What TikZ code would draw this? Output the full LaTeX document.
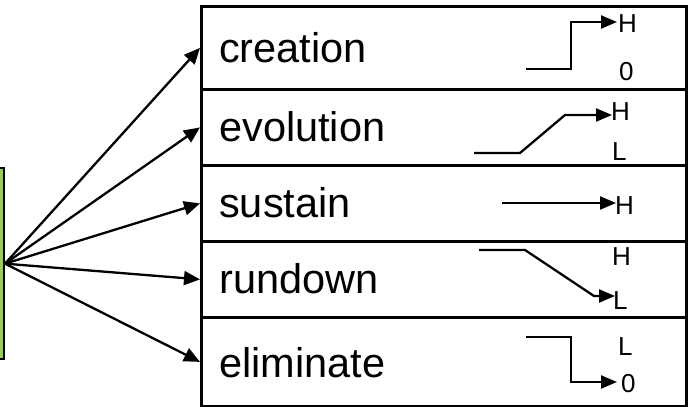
\documentclass[tikz,border=0pt]{standalone}
\usepackage{fontspec}
\setmainfont{Liberation Sans}
\usetikzlibrary{arrows.meta}
\definecolor{srcgreen}{RGB}{146,208,80}
\begin{document}
\begin{tikzpicture}[x=1pt,y=-1pt,
  boxstyle/.style={draw=black,line width=2.8pt,rectangle,minimum width=485pt,inner sep=0pt,anchor=north west},
  maintext/.style={anchor=base west,inner sep=0pt,font=\fontsize{41.5}{41.5}\selectfont},
  lvl/.style={anchor=base west,inner sep=0pt,font=\fontsize{26}{26}\selectfont},
  feed/.style={draw=black,line width=2.3pt,-{Triangle[length=16pt,width=14pt]}},
  sig/.style={draw=black,line width=2.3pt,-{Triangle[length=16pt,width=13pt]}}]
\useasboundingbox (0,0) rectangle (689,407);
% source box
\node[draw=black,fill=srcgreen,line width=2.3pt,rectangle,inner sep=0pt,minimum width=30pt,minimum height=191pt,anchor=north east] (src) at (5,167) {};
% boxes
\node[boxstyle,minimum height=83pt] (bc) at (200,5) {};
\node[boxstyle,minimum height=76pt] (be) at (200,88) {};
\node[boxstyle,minimum height=76pt] (bs) at (200,164) {};
\node[boxstyle,minimum height=76pt] (br) at (200,240) {};
\node[boxstyle,minimum height=89pt] (bl) at (200,316) {};
% texts
\node[maintext] (tc) at (219,62) {creation};
\node[maintext] (te) at (219,141) {evolution};
\node[maintext] (ts) at (219,217) {sustain};
\node[maintext] (tr) at (219,293) {rundown};
\node[maintext] (tl) at (219,377) {eliminate};
% feed arrows
\draw[feed] (src.east) -- (bc.west);
\draw[feed] (src.east) -- (be.west);
\draw[feed] (src.east) -- (bs.west);
\draw[feed] (src.east) -- (br.west);
\draw[feed] (src.east) -- (bl.west);
% level labels
\node[lvl] (cH) at (618,32) {H};
\node[lvl] (c0) at (619,80) {0};
\node[lvl] (eH) at (611,120) {H};
\node[lvl] (eL) at (612,160) {L};
\node[lvl] (sH) at (615,214) {H};
\node[lvl] (rH) at (612,265) {H};
\node[lvl] (rL) at (613,309) {L};
\node[lvl] (lL) at (618,355) {L};
\node[lvl] (l0) at (621,392) {0};
% signal curves
\coordinate (ca) at (526,69);
\coordinate (cb) at (571,69);
\coordinate (cc) at (571,22);
\coordinate (cd) at (617,22);
\draw[sig] (ca) -- (cb) -- (cc) -- (cd);
\coordinate (ea) at (474,153);
\coordinate (eb) at (520,153);
\coordinate (ec) at (565,115);
\coordinate (ed) at (612,115);
\draw[sig] (ea) -- (eb) -- (ec) -- (ed);
\coordinate (sa) at (502,203);
\coordinate (sb) at (616,203);
\draw[sig] (sa) -- (sb);
\coordinate (ra) at (479,250);
\coordinate (rb) at (525,250);
\coordinate (rc) at (594,296);
\coordinate (rd) at (615,296);
\draw[sig] (ra) -- (rb) -- (rc) -- (rd);
\coordinate (la) at (526,337);
\coordinate (lb) at (571,337);
\coordinate (lc) at (571,382);
\coordinate (ld) at (617,382);
\draw[sig] (la) -- (lb) -- (lc) -- (ld);
\end{tikzpicture}
\end{document}
